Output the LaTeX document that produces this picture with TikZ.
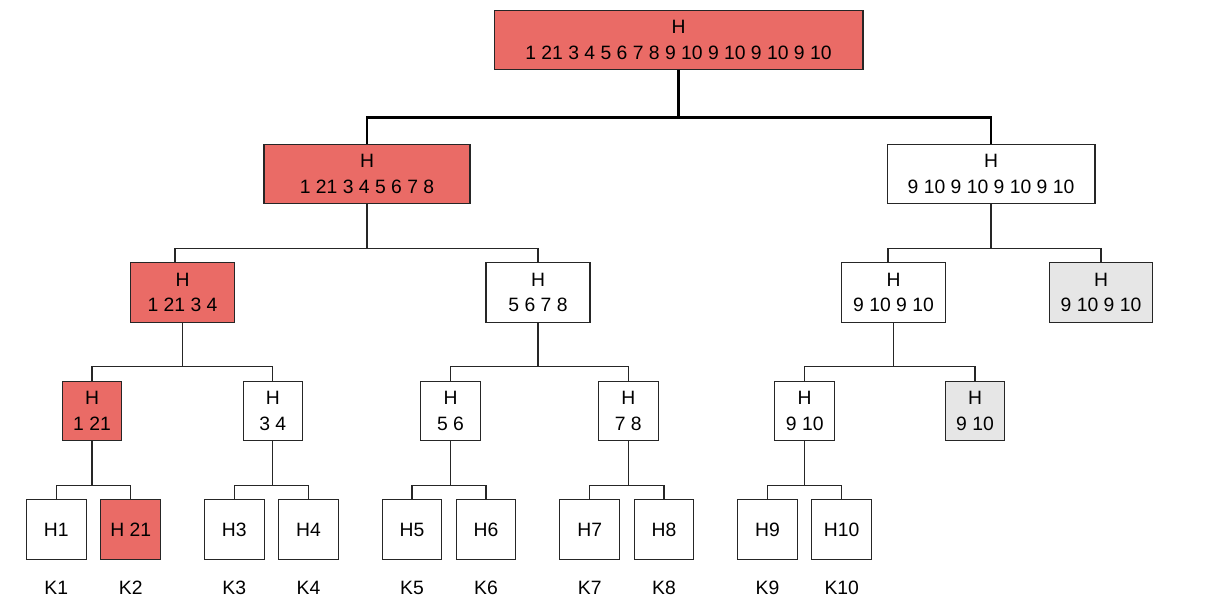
\documentclass[tikz,border=0pt]{standalone}
\usepackage{fontspec}
\setmainfont{Liberation Sans}
\usetikzlibrary{positioning}
\definecolor{hitred}{HTML}{EA6B66}
\definecolor{keepgrey}{HTML}{E6E6E6}
\tikzset{
  box/.style={draw=black!85, line width=0.6pt, inner sep=0pt, align=center, minimum height=1.19cm},
  leaf/.style={box, minimum width=1.19cm},
  hit/.style={fill=hitred},
  kept/.style={fill=keepgrey},
  link/.style={draw=black!85, line width=0.6pt},
  trunk/.style={draw=black, line width=1.4pt}
}
% parent, left child anchor, right child anchor
\newcommand{\fork}[4][link]{%
  \draw[#1] (#2.south) -- ++(0,44) coordinate (j);
  \draw[#1] (#3) |- (j) -| (#4);}

\begin{document}
\begin{tikzpicture}[x=0.02cm, y=-0.02cm, font=\fontsize{11}{14.7}\selectfont]
                    \useasboundingbox (0,0) rectangle (1206,610);
                    % root
                    \node[box, hit, minimum width=7.38cm, minimum height=1.17cm] (root) at (678.5,40) {H\\1 21 3 4 5 6 7 8 9 10 9 10 9 10 9 10};
                    % level 1
                    \node[box, hit, minimum width=4.12cm] (hA) at (367,174) {H\\1 21 3 4 5 6 7 8};
                    \node[box, minimum width=4.16cm] (hB) at (991,174) {H\\9 10 9 10 9 10 9 10};
                    % level 2
                    \node[box, hit, minimum width=2.07cm] (hAA) at (182.5,292.5) {H\\1 21 3 4};
                    \node[box, minimum width=2.08cm] (hAB) at (538,292.5) {H\\5 6 7 8};
                    \node[box, minimum width=2.07cm] (hBA) at (893.5,292.5) {H\\9 10 9 10};
                    \node[box, kept, minimum width=2.07cm] (hBB) at (1101,292.5) {H\\9 10 9 10};
                    % level 3
                    \node[leaf, hit] (h12) at (92,411) {H\\1 21};
                    \node[leaf] (h34) at (272.8,411) {H\\3 4};
                    \node[leaf] (h56) at (450.5,411) {H\\5 6};
                    \node[leaf] (h78) at (628.3,411) {H\\7 8};
                    \node[leaf] (h910) at (804.7,411) {H\\9 10};
                    \node[leaf, kept] (h910b) at (975,411) {H\\9 10};
                    % leaves
                    \node[leaf] (h1) at (56.3,529.5) {H1};
                    \node[leaf, hit] (h2) at (130.7,529.5) {H 21};
                    \node[leaf] (h3) at (234.3,529.5) {H3};
                    \node[leaf] (h4) at (308.5,529.5) {H4};
                    \node[leaf] (h5) at (412,529.5) {H5};
                    \node[leaf] (h6) at (486,529.5) {H6};
                    \node[leaf] (h7) at (589.7,529.5) {H7};
                    \node[leaf] (h8) at (664,529.5) {H8};
                    \node[leaf] (h9) at (767.5,529.5) {H9};
                    \node[leaf] (h10) at (841.7,529.5) {H10};
                    % key labels
                    \foreach \i in {1,...,10}
                        \node (k\i) at ([yshift=-1.17cm]h\i.center) {K\i};
                    % connectors
                    \draw[trunk] (root.south) -- ++(0,47.7) coordinate (top);
                    \draw[trunk] (hA.north) |- (top) -| (hB.north);
                    \fork{hA}{[xshift=-0.15cm]hAA.north}{hAB.north}
                    \fork{hB}{[xshift=-0.11cm]hBA.north}{hBB.north}
                    \fork{hAA}{h12.north}{h34.north}
                    \fork{hAB}{h56.north}{h78.north}
                    \fork{hBA}{h910.north}{h910b.north}
                    \fork{h12}{h1.north}{h2.north}
                    \fork{h34}{h3.north}{h4.north}
                    \fork{h56}{h5.north}{h6.north}
                    \fork{h78}{h7.north}{h8.north}
                    \fork{h910}{h9.north}{h10.north}
                \end{tikzpicture}
\end{document}
